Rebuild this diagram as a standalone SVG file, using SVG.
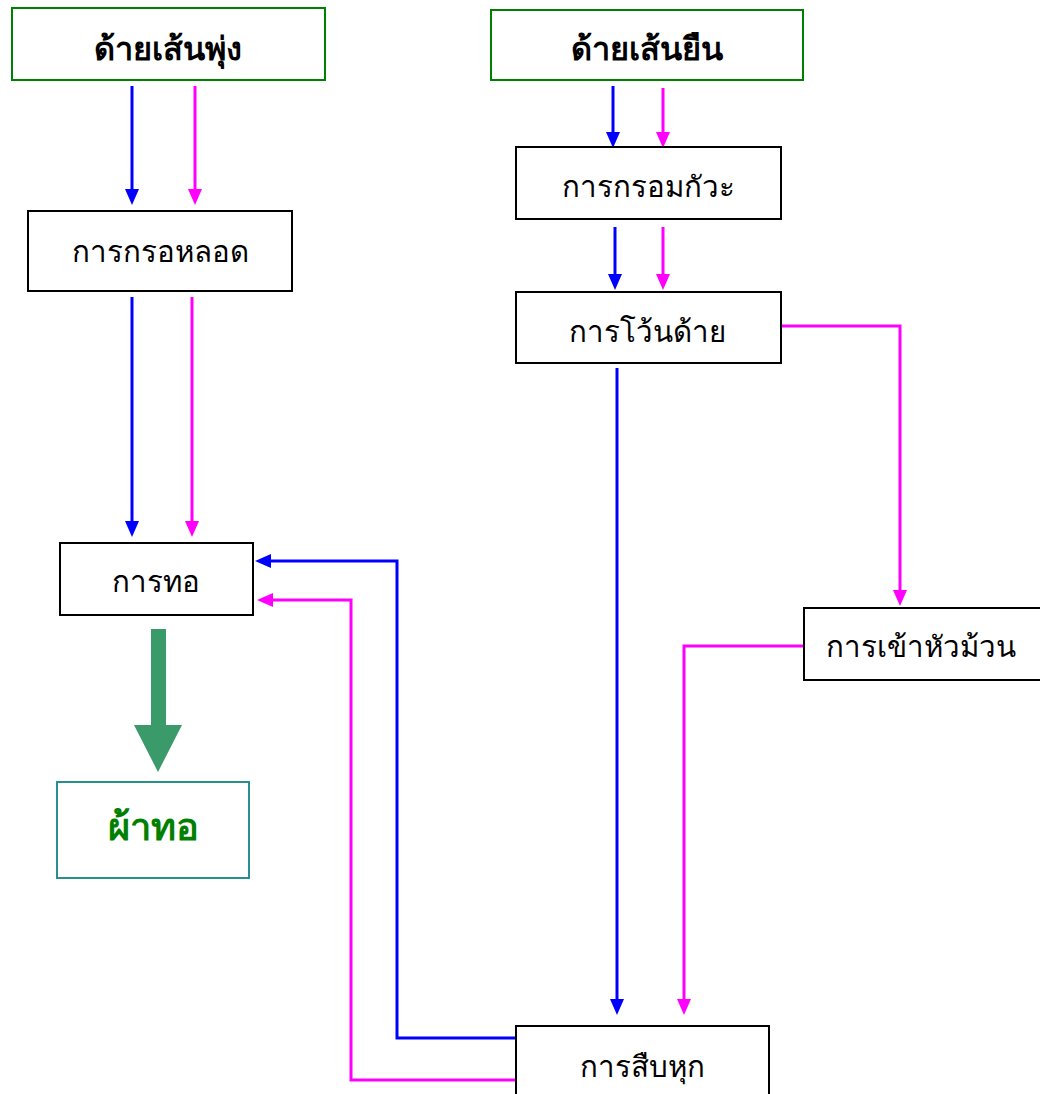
<svg xmlns="http://www.w3.org/2000/svg" width="1040" height="1094" viewBox="0 0 1040 1094">
<style>
.box{fill:#fff;stroke:#000;stroke-width:2}
.src{fill:#fff;stroke:#008000;stroke-width:2}
.out{fill:#fff;stroke:#2a8f8f;stroke-width:2}
.t{font-family:"DejaVu Sans","Noto Sans",sans-serif;font-size:29.5px;fill:#000;text-anchor:middle}
.b{font-weight:bold;font-size:32.5px}
.g{fill:#008000;font-size:38px}
.bl{fill:none;stroke:#0000ff;stroke-width:3;marker-end:url(#ab)}
.mg{fill:none;stroke:#ff00ff;stroke-width:3;marker-end:url(#am)}
</style>
<defs>
<marker id="ab" viewBox="0 0 16 14" refX="8" refY="7" markerWidth="16" markerHeight="14" markerUnits="userSpaceOnUse" orient="auto"><path d="M0,0 L16,7 L0,14 z" fill="#0000ff"/></marker>
<marker id="am" viewBox="0 0 16 14" refX="8" refY="7" markerWidth="16" markerHeight="14" markerUnits="userSpaceOnUse" orient="auto"><path d="M0,0 L16,7 L0,14 z" fill="#ff00ff"/></marker>
</defs>
<rect width="1040" height="1094" fill="#fff"/>
<g id="connectors">
<path class="bl" d="M132,86 L132,197"/>
<path class="mg" d="M195,86 L195,197"/>
<path class="bl" d="M613,86 L613,140"/>
<path class="mg" d="M663,88 L663,140"/>
<path class="bl" d="M615,227 L615,282"/>
<path class="mg" d="M663,227 L663,282"/>
<path class="bl" d="M132,297 L132,529"/>
<path class="mg" d="M192,297 L192,529"/>
<path class="bl" d="M617,368 L617,1007"/>
<path class="mg" d="M781,326 H900 V598"/>
<path class="mg" d="M804,646 H684 V1007"/>
<path class="bl" d="M516,1038 H397 V561 H263"/>
<path class="mg" d="M516,1080 H351 V600 H265"/>
<polygon points="151,629 166,629 166,725 182,725 158,772 134,725 151,725" fill="#3a9a6a"/>
</g>
<g id="weft">
<rect class="src" x="12" y="8" width="313" height="72"/>
<text class="t b" x="168" y="60">ด้ายเส้นพุ่ง</text>
</g>
<g id="warp">
<rect class="src" x="491" y="10" width="312" height="70"/>
<text class="t b" x="647" y="60">ด้ายเส้นยืน</text>
</g>
<g id="bobbin">
<rect class="box" x="28" y="211" width="264" height="80"/>
<text class="t" x="160" y="262">การกรอหลอด</text>
</g>
<g id="reel">
<rect class="box" x="516" y="147" width="265" height="72"/>
<text class="t" x="648" y="197">การกรอมกัวะ</text>
</g>
<g id="warping">
<rect class="box" x="516" y="292" width="265" height="71"/>
<text class="t" x="647" y="342">การโว้นด้าย</text>
</g>
<g id="weaving">
<rect class="box" x="60" y="543" width="193" height="72"/>
<text class="t" x="156" y="592">การทอ</text>
</g>
<g id="cloth">
<rect class="out" x="57" y="782" width="192" height="96"/>
<text class="t b g" x="153" y="840">ผ้าทอ</text>
</g>
<g id="beaming">
<rect class="box" x="804" y="608" width="250" height="72"/>
<text class="t" x="826" y="657" style="text-anchor:start">การเข้าหัวม้วน</text>
</g>
<g id="drawing">
<rect class="box" x="516" y="1026" width="253" height="80"/>
<text class="t" x="642" y="1077">การสืบหุก</text>
</g>
</svg>
